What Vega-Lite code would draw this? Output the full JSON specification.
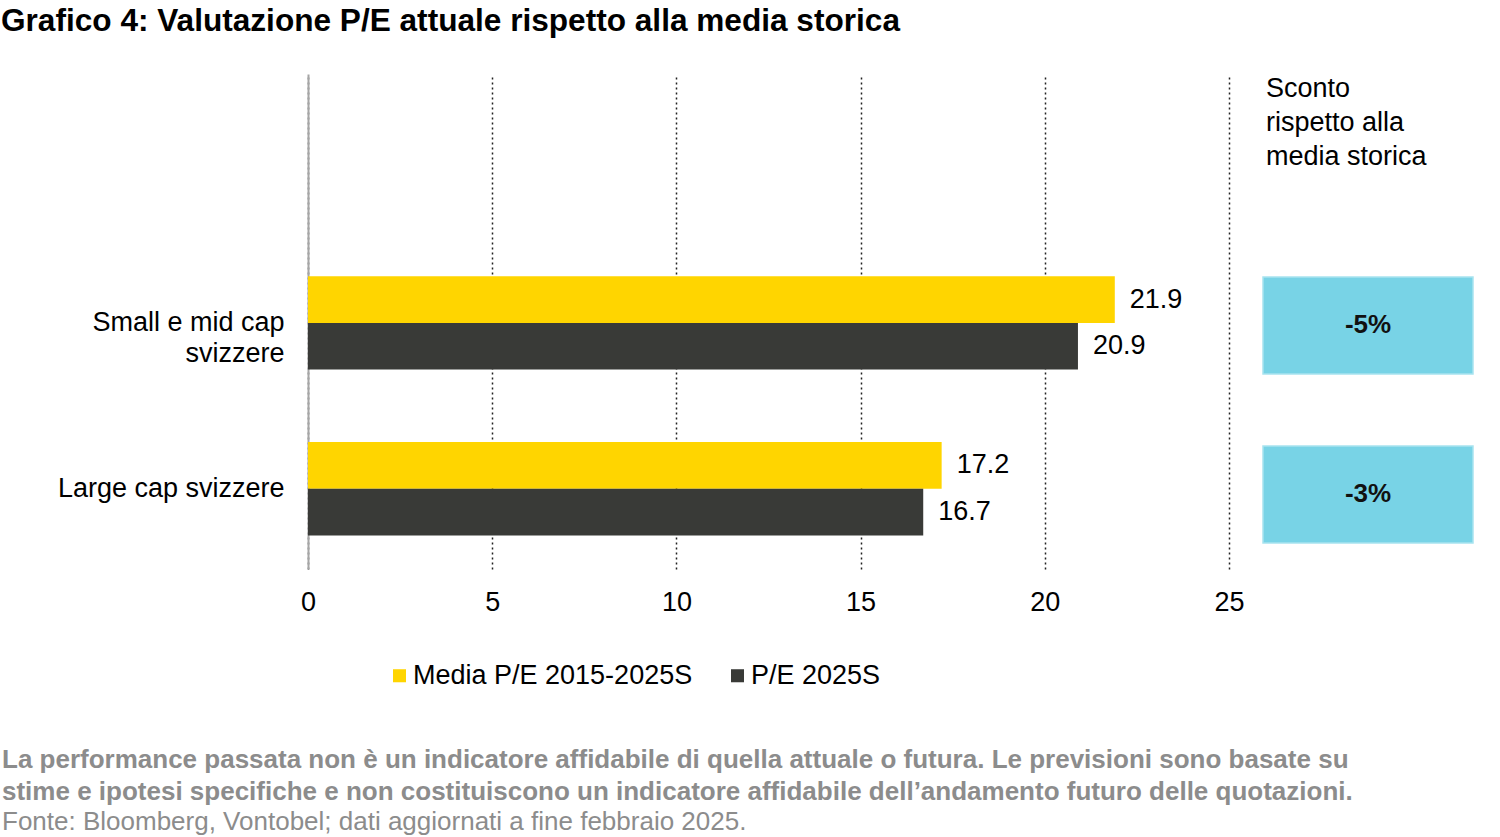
{
  "$schema": "https://vega.github.io/schema/vega-lite/v6.json",
  "background": "white",
  "padding": {"left": 1, "top": 6, "right": 0, "bottom": 0},
  "title": {
    "text": "Grafico 4: Valutazione P/E attuale rispetto alla media storica",
    "anchor": "start",
    "fontSize": 31.6,
    "fontWeight": "bold",
    "font": "Liberation Sans",
    "color": "#000000",
    "offset": 36
  },
  "config": {
    "view": {"stroke": null},
    "font": "Liberation Sans"
  },
  "spacing": 131,
  "vconcat": [
    {
      "spacing": 17,
      "hconcat": [
        {
          "width": 921,
          "height": 495,
          "data": {
            "values": [
              {"categoria": "Small e mid cap svizzere", "serie": "Media P/E 2015-2025S", "valore": 21.9},
              {"categoria": "Small e mid cap svizzere", "serie": "P/E 2025S", "valore": 20.9},
              {"categoria": "Large cap svizzere", "serie": "Media P/E 2015-2025S", "valore": 17.2},
              {"categoria": "Large cap svizzere", "serie": "P/E 2025S", "valore": 16.7}
            ]
          },
          "encoding": {
            "y": {
              "field": "categoria",
              "type": "nominal",
              "sort": null,
              "scale": {"paddingInner": 0.437, "paddingOuter": 0.71, "align": 0.858},
              "axis": {
                "title": null,
                "ticks": false,
                "labelPadding": 24,
                "labelFontSize": 27,
                "labelColor": "#000000",
                "labelLimit": 400,
                "labelLineHeight": 31,
                "minExtent": 307,
                "domainColor": "#a6a6a6",
                "domainWidth": 2,
                "labelExpr": "datum.label == 'Small e mid cap svizzere' ? ['Small e mid cap', 'svizzere'] : datum.label"
              }
            },
            "yOffset": {
              "field": "serie",
              "type": "nominal",
              "sort": ["Media P/E 2015-2025S", "P/E 2025S"],
              "scale": {"paddingInner": 0, "paddingOuter": 0}
            },
            "x": {
              "field": "valore",
              "type": "quantitative",
              "scale": {"domain": [0, 25], "nice": false},
              "axis": {
                "title": null,
                "values": [0, 5, 10, 15, 20, 25],
                "domain": false,
                "ticks": false,
                "grid": true,
                "gridDash": [2, 3],
                "gridColor": "#222222",
                "gridWidth": 1.5,
                "labelFlush": false,
                "labelPadding": 20,
                "labelFontSize": 27,
                "labelColor": "#000000"
              }
            }
          },
          "layer": [
            {
              "mark": {"type": "bar"},
              "encoding": {
                "color": {
                  "field": "serie",
                  "type": "nominal",
                  "scale": {
                    "domain": ["Media P/E 2015-2025S", "P/E 2025S"],
                    "range": ["#ffd500", "#393a37"]
                  },
                  "legend": {
                    "title": null,
                    "orient": "none",
                    "legendX": 78,
                    "legendY": 588,
                    "direction": "horizontal",
                    "symbolType": "square",
                    "symbolSize": 170,
                    "labelFontSize": 27,
                    "labelColor": "#000000",
                    "labelOffset": 0,
                    "columnPadding": 31,
                    "labelLimit": 400
                  }
                }
              }
            },
            {
              "mark": {"type": "text", "align": "left", "dx": 15, "fontSize": 27, "color": "#000000"},
              "encoding": {
                "text": {"field": "valore", "type": "quantitative", "format": ".1f"}
              }
            }
          ]
        },
        {
          "width": 210,
          "height": 495,
          "title": {
            "text": ["Sconto", "rispetto alla", "media storica"],
            "anchor": "start",
            "frame": "group",
            "orient": "top",
            "offset": -97,
            "dx": 3,
            "fontSize": 27,
            "fontWeight": "normal",
            "lineHeight": 34,
            "color": "#000000"
          },
          "data": {
            "values": [
              {"categoria": "Small e mid cap svizzere", "sconto": "-5%"},
              {"categoria": "Large cap svizzere", "sconto": "-3%"}
            ]
          },
          "encoding": {
            "y": {
              "field": "categoria",
              "type": "nominal",
              "sort": null,
              "scale": {"paddingInner": 0.426, "paddingOuter": 0.6775, "align": 0.886},
              "axis": null
            }
          },
          "layer": [
            {
              "mark": {"type": "bar", "color": "#78d3e6", "stroke": "#a8e4f0", "strokeWidth": 1.5}
            },
            {
              "mark": {"type": "text", "fontSize": 26, "fontWeight": "bold", "color": "#111111"},
              "encoding": {
                "text": {"field": "sconto", "type": "nominal"}
              }
            }
          ]
        }
      ]
    },
    {
      "width": 1100,
      "height": 1,
      "data": {"values": [{}]},
      "mark": {"type": "point", "opacity": 0},
      "encoding": {},
      "title": {
        "text": [
          "La performance passata non è un indicatore affidabile di quella attuale o futura. Le previsioni sono basate su",
          "stime e ipotesi specifiche e non costituiscono un indicatore affidabile dell’andamento futuro delle quotazioni."
        ],
        "subtitle": "Fonte: Bloomberg, Vontobel; dati aggiornati a fine febbraio 2025.",
        "anchor": "start",
        "frame": "group",
        "dx": -306,
        "fontSize": 26,
        "fontWeight": "bold",
        "color": "#8c8c8c",
        "lineHeight": 32,
        "subtitleFontSize": 26,
        "subtitleColor": "#8c8c8c",
        "subtitleFont": "Liberation Sans",
        "subtitlePadding": 4,
        "offset": 2
      }
    }
  ]
}
